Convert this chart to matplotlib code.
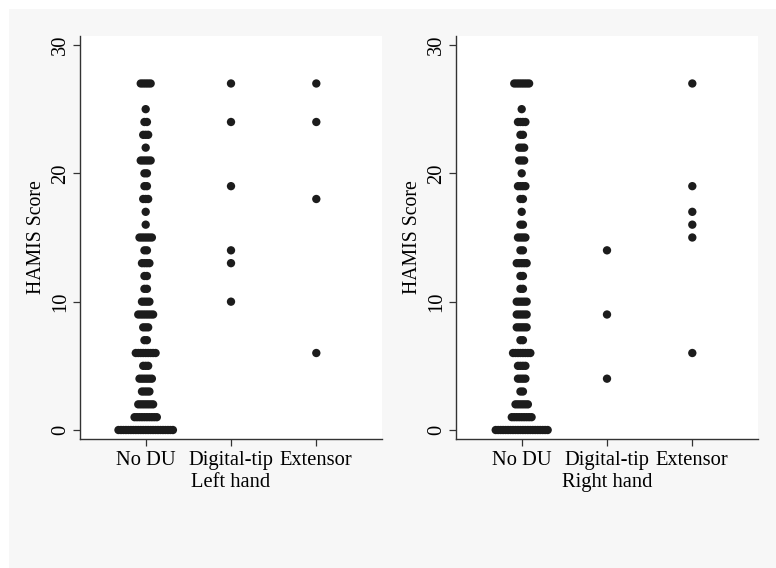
import matplotlib
matplotlib.use("Agg")
import matplotlib.pyplot as plt
from matplotlib.patches import Rectangle

plt.rcParams['font.family'] = ['Liberation Serif', 'DejaVu Serif']

categories = ["No DU", "Digital-tip", "Extensor"]

# HAMIS score -> number of patients, per group
left_nodu_scores = [27, 25, 24, 23, 22, 21, 20, 19, 18, 17, 16, 15, 14, 13, 12, 11, 10, 9, 8, 7, 6, 5, 4, 3, 2, 1, 0]
left_nodu_counts = [5, 1, 2, 3, 1, 5, 2, 2, 3, 1, 1, 6, 2, 4, 2, 2, 4, 7, 3, 2, 9, 3, 6, 4, 7, 10, 23]
left_tip_scores = [27, 24, 19, 14, 13, 10]
left_ext_scores = [27, 24, 18, 6]

right_nodu_scores = [27, 25, 24, 23, 22, 21, 20, 19, 18, 17, 16, 15, 14, 13, 12, 11, 10, 9, 8, 7, 6, 5, 4, 3, 2, 1, 0]
right_nodu_counts = [7, 1, 4, 2, 3, 3, 1, 4, 2, 1, 2, 4, 2, 5, 2, 2, 5, 5, 5, 2, 8, 4, 4, 2, 6, 9, 22]
right_tip_scores = [14, 9, 4]
right_ext_scores = [27, 19, 17, 16, 15, 6]

DX = 0.029  # horizontal step between stacked dots (data units)
DOT = "#1c1c1c"
AXC = "#333333"
FS = 14.8


def dot_positions(center, scores, counts=None):
    xs, ys = [], []
    if counts is None:
        counts = [1] * len(scores)
    for s, n in zip(scores, counts):
        for i in range(n):
            xs.append(center + (i - (n - 1) / 2) * DX)
            ys.append(s)
    return xs, ys


def draw_panel(ax, nodu, tip, ext, xlabel):
    groups = [nodu, (tip, None), (ext, None)]
    for k, (sc, cn) in enumerate(groups):
        xs, ys = dot_positions(k + 1, sc, cn)
        ax.scatter(xs, ys, s=36, color=DOT, edgecolors="none", zorder=3)
    ax.set_xlim(0.23, 3.77)
    ax.set_ylim(-0.7, 30.7)
    ax.set_xticks([1, 2, 3])
    ax.set_xticklabels(categories, fontsize=FS)
    ax.set_yticks([0, 10, 20, 30])
    ax.set_yticklabels(["0", "10", "20", "30"], fontsize=FS, rotation=90, va="center")
    ax.set_ylabel("HAMIS Score", fontsize=14.2, labelpad=4)
    ax.set_xlabel(xlabel, fontsize=FS, labelpad=2)
    for side in ["top", "right"]:
        ax.spines[side].set_visible(False)
    for side in ["left", "bottom"]:
        ax.spines[side].set_color(AXC)
        ax.spines[side].set_linewidth(1.0)
    ax.tick_params(direction="out", length=5, color=AXC, width=0.9, pad=2)
    ax.tick_params(axis="x", pad=3.5)
    ax.set_facecolor("white")


fig = plt.figure(figsize=(7.76, 5.68), dpi=100)
fig.patch.set_facecolor("white")
fig.patches.append(Rectangle((9 / 776, 0), 1, 1 - 9 / 568, transform=fig.transFigure,
                             facecolor="#f7f7f7", edgecolor="none", zorder=-10))

ax1 = fig.add_axes([80 / 776, 1 - 439 / 568, 302 / 776, 403 / 568])
ax2 = fig.add_axes([456 / 776, 1 - 439 / 568, 302 / 776, 403 / 568])

draw_panel(ax1, (left_nodu_scores, left_nodu_counts), left_tip_scores, left_ext_scores, "Left hand")
draw_panel(ax2, (right_nodu_scores, right_nodu_counts), right_tip_scores, right_ext_scores, "Right hand")

fig.savefig("out.png", dpi=100)
